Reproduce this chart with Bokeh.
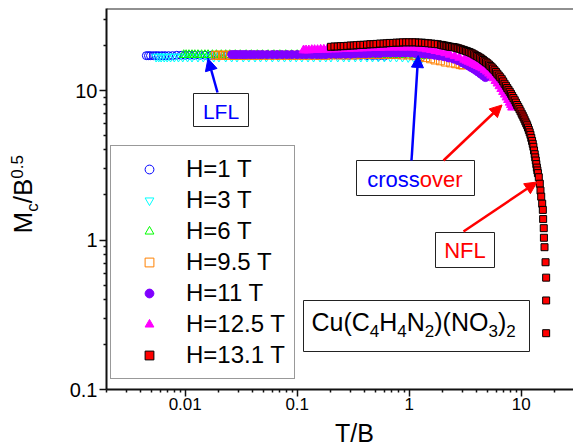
import math
from bokeh.plotting import figure
from bokeh.layouts import row, column
from bokeh.models import (Range1d, FixedTicker, NumeralTickFormatter, Label, Arrow,
                          NormalHead, Span, Legend, LegendItem)
from bokeh.embed import file_html
from bokeh.resources import INLINE

# ---------------- data (T/B, Mc/B^0.5) ----------------
labels = ["H=1 T", "H=3 T", "H=6 T", "H=9.5 T", "H=11 T", "H=12.5 T", "H=13.1 T"]

t1 = [0.0045, 0.0047, 0.0049, 0.0052, 0.0055, 0.0058, 0.0062, 0.0066,
      0.0071, 0.0077, 0.0084, 0.0092, 0.0100, 0.0110, 0.0120, 0.0135,
      0.0150, 0.0170, 0.0190, 0.0210, 0.0240, 0.0270, 0.0300, 0.0340,
      0.0380, 0.0430, 0.0480, 0.0540, 0.0610, 0.0690, 0.0780, 0.0880,
      0.100, 0.113, 0.127, 0.143, 0.161, 0.181, 0.204, 0.230,
      0.259, 0.292, 0.329, 0.371, 0.418, 0.471, 0.531, 0.600]
m1 = [17.1, 17.1, 17.1, 17.1, 17.1, 17.1, 17.1, 17.1,
      17.1, 17.1, 17.2, 17.2, 17.2, 17.2, 17.2, 17.2,
      17.2, 17.2, 17.2, 17.2, 17.2, 17.2, 17.2, 17.2,
      17.3, 17.3, 17.3, 17.3, 17.3, 17.3, 17.3, 17.3,
      17.3, 17.3, 17.3, 17.3, 17.3, 17.3, 17.3, 17.3,
      17.2, 17.2, 17.2, 17.2, 17.1, 17.1, 17.0, 17.0]

t3 = [0.0055, 0.0058, 0.0061, 0.0065, 0.0069, 0.0074, 0.0080, 0.0087,
      0.0095, 0.0105, 0.0115, 0.0130, 0.0145, 0.0160, 0.0180, 0.0200,
      0.0230, 0.0260, 0.0290, 0.0330, 0.0370, 0.0420, 0.0470, 0.0530,
      0.0600, 0.0680, 0.0770, 0.0870, 0.0980, 0.110, 0.125, 0.140,
      0.160, 0.180, 0.200, 0.230, 0.260, 0.290, 0.330, 0.370,
      0.420, 0.470, 0.530, 0.600, 0.680, 0.770, 0.870, 0.980,
      1.10, 1.20, 1.30]
m3 = [16.8, 16.8, 16.8, 16.8, 16.8, 16.8, 16.8, 16.8,
      16.8, 16.8, 16.8, 16.8, 16.8, 16.8, 16.8, 16.8,
      16.8, 16.8, 16.8, 16.8, 16.8, 16.8, 16.8, 16.8,
      16.8, 16.8, 16.8, 16.8, 16.8, 16.8, 16.8, 16.8,
      16.8, 16.8, 16.8, 16.8, 16.8, 16.8, 16.8, 16.8,
      16.8, 16.8, 16.8, 16.8, 16.8, 16.8, 16.8, 16.7,
      16.7, 16.6, 16.6]

t6 = [0.0097, 0.0102, 0.0108, 0.0115, 0.0122, 0.0130, 0.0140, 0.0150,
      0.0160, 0.0175, 0.0190, 0.0210, 0.0230, 0.0250, 0.0280, 0.0310,
      0.0350, 0.0390, 0.0440, 0.0490, 0.0550, 0.0620, 0.0700, 0.0790,
      0.0890, 0.100, 0.113, 0.127, 0.143, 0.160, 0.180, 0.200,
      0.230, 0.260, 0.290, 0.330, 0.370, 0.420, 0.470, 0.530,
      0.600, 0.680, 0.770, 0.870, 0.980, 1.10, 1.25, 1.40]
m6 = [17.3, 17.3, 17.3, 17.3, 17.3, 17.3, 17.3, 17.3,
      17.3, 17.3, 17.3, 17.3, 17.3, 17.3, 17.3, 17.3,
      17.3, 17.3, 17.3, 17.3, 17.3, 17.3, 17.3, 17.3,
      17.3, 17.3, 17.3, 17.3, 17.3, 17.3, 17.3, 17.3,
      17.3, 17.3, 17.3, 17.3, 17.3, 17.3, 17.3, 17.3,
      17.3, 17.3, 17.3, 17.3, 17.2, 17.2, 17.1, 17.0]

t95 = [0.0186, 0.0195, 0.0205, 0.0215, 0.0227, 0.0240, 0.0255, 0.0270,
       0.0290, 0.0310, 0.0340, 0.0370, 0.0410, 0.0450, 0.0500, 0.0560,
       0.0630, 0.0710, 0.0800, 0.0900, 0.100, 0.113, 0.127, 0.143,
       0.160, 0.180, 0.200, 0.230, 0.260, 0.290, 0.330, 0.370,
       0.420, 0.470, 0.530, 0.600, 0.680, 0.770, 0.870, 0.980,
       1.10, 1.25, 1.40, 1.55, 1.70, 1.90, 2.10, 2.35,
       2.60, 2.85, 3.00]
m95 = [17.2, 17.2, 17.2, 17.2, 17.2, 17.2, 17.2, 17.2,
       17.2, 17.2, 17.2, 17.2, 17.2, 17.2, 17.2, 17.2,
       17.2, 17.2, 17.2, 17.2, 17.2, 17.2, 17.2, 17.2,
       17.2, 17.2, 17.3, 17.3, 17.3, 17.3, 17.3, 17.4,
       17.4, 17.4, 17.4, 17.4, 17.4, 17.4, 17.3, 17.3,
       17.1, 16.9, 16.6, 16.3, 16.0, 15.8, 15.5, 15.3,
       15.1, 14.9, 14.8]

t11 = [0.0260, 0.0275, 0.0290, 0.0310, 0.0330, 0.0350, 0.0380, 0.0410,
       0.0450, 0.0490, 0.0540, 0.0600, 0.0660, 0.0730, 0.0810, 0.0900,
       0.100, 0.110, 0.120, 0.135, 0.150, 0.165, 0.180, 0.200,
       0.220, 0.245, 0.270, 0.300, 0.330, 0.370, 0.410, 0.450,
       0.500, 0.550, 0.610, 0.680, 0.750, 0.830, 0.920, 1.02,
       1.13, 1.25, 1.38, 1.52, 1.68, 1.85, 2.05, 2.25,
       2.50, 2.75, 3.00, 3.15, 3.30, 3.45, 3.60, 3.78,
       3.95, 4.15, 4.35, 4.57, 4.80]
m11 = [17.4, 17.4, 17.4, 17.4, 17.4, 17.4, 17.4, 17.4,
       17.4, 17.4, 17.4, 17.4, 17.4, 17.4, 17.4, 17.4,
       17.4, 17.4, 17.4, 17.4, 17.4, 17.4, 17.4, 17.5,
       17.5, 17.5, 17.5, 17.5, 17.6, 17.6, 17.6, 17.7,
       17.7, 17.7, 17.8, 17.8, 17.8, 17.8, 17.8, 17.8,
       17.7, 17.6, 17.5, 17.4, 17.2, 17.0, 16.8, 16.5,
       16.2, 15.8, 15.3, 15.05, 14.8, 14.5, 14.2, 13.9,
       13.6, 13.25, 12.9, 12.55, 12.2]

t125 = [0.114, 0.120, 0.127, 0.135, 0.143, 0.152, 0.162, 0.173,
        0.185, 0.200, 0.215, 0.230, 0.250, 0.270, 0.290, 0.320,
        0.350, 0.380, 0.420, 0.460, 0.500, 0.550, 0.600, 0.660,
        0.720, 0.800, 0.880, 0.970, 1.07, 1.18, 1.30, 1.43,
        1.57, 1.72, 1.90, 2.10, 2.30, 2.55, 2.80, 3.10,
        3.25, 3.40, 3.57, 3.75, 3.92, 4.10, 4.30, 4.50,
        4.72, 4.95, 5.17, 5.40, 5.65, 5.90, 6.15, 6.40,
        6.65, 6.90, 7.15, 7.40, 7.65, 7.90, 8.10, 8.30]
m125 = [18.6, 18.6, 18.6, 18.7, 18.7, 18.7, 18.8, 18.8,
        18.8, 18.9, 18.9, 18.9, 19.0, 19.0, 19.0, 19.1,
        19.1, 19.2, 19.2, 19.3, 19.3, 19.3, 19.4, 19.4,
        19.4, 19.4, 19.4, 19.4, 19.4, 19.3, 19.1, 18.9,
        18.7, 18.4, 18.1, 17.8, 17.4, 17.0, 16.6, 16.1,
        15.85, 15.6, 15.35, 15.1, 14.85, 14.6, 14.35, 14.1,
        13.75, 13.4, 13.0, 12.6, 12.1, 11.6, 11.15, 10.7,
        10.25, 9.8, 9.4, 9.0, 8.65, 8.3, 8.0, 7.7]

t131 = [0.200, 0.215, 0.230, 0.245, 0.260, 0.280, 0.300, 0.320,
        0.340, 0.365, 0.390, 0.420, 0.450, 0.480, 0.510, 0.550,
        0.590, 0.630, 0.670, 0.720, 0.770, 0.820, 0.880, 0.940,
        1.00, 1.07, 1.14, 1.22, 1.30, 1.39, 1.48, 1.58,
        1.69, 1.80, 1.92, 1.98, 2.05, 2.12, 2.19, 2.26,
        2.33, 2.41, 2.49, 2.57, 2.65, 2.74, 2.83, 2.92,
        3.02, 3.12, 3.22, 3.32, 3.43, 3.54, 3.66, 3.78,
        3.90, 4.02, 4.15, 4.28, 4.42, 4.56, 4.70, 4.85,
        5.00, 5.15, 5.30, 5.45, 5.60, 5.78, 5.95, 6.12,
        6.30, 6.50, 6.70, 6.90, 7.10, 7.30, 7.50, 7.70,
        7.90, 8.10, 8.30, 8.52, 8.75, 8.97, 9.20, 9.42,
        9.65, 9.87, 10.1, 10.3, 10.5, 10.7, 10.9, 11.1,
        11.3, 11.5, 11.7, 11.9, 12.1, 12.3, 12.5, 12.68,
        12.85, 13.02, 13.2, 13.35, 13.5, 13.65, 13.8, 13.95,
        14.1, 14.36, 14.66, 14.87, 15.09, 15.4, 15.6, 15.7,
        15.9, 15.95, 16.15, 16.5, 16.7, 16.7, 16.7]
m131 = [19.6, 19.7, 19.7, 19.8, 19.8, 19.9, 20.0, 20.0,
        20.1, 20.2, 20.2, 20.3, 20.4, 20.4, 20.5, 20.6,
        20.6, 20.7, 20.8, 20.8, 20.9, 20.9, 21.0, 21.0,
        21.0, 21.0, 21.0, 20.9, 20.9, 20.8, 20.7, 20.6,
        20.5, 20.4, 20.2, 20.1, 20.0, 19.9, 19.8, 19.7,
        19.6, 19.55, 19.5, 19.4, 19.3, 19.15, 19.0, 18.85,
        18.7, 18.55, 18.4, 18.25, 18.1, 17.9, 17.7, 17.45,
        17.2, 17.0, 16.8, 16.55, 16.3, 16.0, 15.7, 15.45,
        15.2, 14.9, 14.6, 14.3, 14.0, 13.65, 13.3, 12.95,
        12.6, 12.25, 11.9, 11.5, 11.1, 10.75, 10.4, 10.1,
        9.8, 9.5, 9.2, 8.9, 8.6, 8.3, 8.0, 7.75,
        7.5, 7.25, 7.0, 6.8, 6.6, 6.4, 6.2, 6.02,
        5.85, 5.65, 5.45, 5.25, 5.05, 4.82, 4.6, 4.4,
        4.2, 3.97, 3.75, 3.57, 3.4, 3.22, 3.05, 2.92,
        2.8, 2.63, 2.38, 2.14, 1.95, 1.75, 1.59, 1.38,
        1.20, 1.035, 0.895, 0.71, 0.56, 0.394, 0.238]

x_major = [0.01, 0.1, 1, 10]
y_major = [0.1, 1, 10]

for a, b in [(t1, m1), (t3, m3), (t6, m6), (t95, m95), (t11, m11), (t125, m125), (t131, m131)]:
    assert len(a) == len(b), (len(a), len(b))

# ---------------- layout (page pixels) ----------------
FONT = "Liberation Sans"
W, H = 573, 447
YW = 60           # width of the strip holding the y title
PH = 417          # height of the main figure (x title strip below it)
FL, FR, FT, FB = 106, 573, 8, 389
X_DEC, X_AT_001 = 112.0, 184.7      # px per decade, px of T/B = 0.01
Y_DEC, Y_AT_10 = 149.5, 90.0        # px per decade, px of M = 10
FIX_H = 0.32                        # measured baseline shift (em) of horizontal Labels
FIX_V = 0.56                        # measured baseline shift (em) of rotated Labels

lx0 = -2 - (X_AT_001 - FL) / X_DEC
lx1 = -2 + (FR - X_AT_001) / X_DEC
ly0 = 1 - (FB - Y_AT_10) / Y_DEC
ly1 = 1 + (Y_AT_10 - FT) / Y_DEC


def dx(px):
    return 10 ** (lx0 + (px - FL) / X_DEC)


def dy(py):
    return 10 ** (ly0 + (FB - py) / Y_DEC)


p = figure(width=W - YW, height=PH, x_axis_type="log", y_axis_type="log",
           x_range=Range1d(10 ** lx0, 10 ** lx1), y_range=Range1d(10 ** ly0, 10 ** ly1),
           output_backend="svg", toolbar_location=None,
           min_border_left=FL - YW, min_border_right=W - FR, min_border_top=FT,
           min_border_bottom=PH - FB)
p.outline_line_color = None
p.grid.visible = False
p.background_fill_color = "white"
p.border_fill_color = "white"

x_minor = [m * 10.0 ** e for e in range(-3, 2) for m in range(2, 10)]
y_minor = [m * 10.0 ** e for e in range(-1, 2) for m in range(2, 10)]
p.xaxis.ticker = FixedTicker(ticks=x_major, minor_ticks=x_minor)
p.yaxis.ticker = FixedTicker(ticks=y_major, minor_ticks=y_minor)
for ax in (p.xaxis[0], p.yaxis[0]):
    ax.formatter = NumeralTickFormatter(format="0.[00]")
    ax.axis_line_width = 2
    ax.axis_line_color = "#111111"
    ax.major_tick_in = 0
    ax.major_tick_out = 7
    ax.minor_tick_in = 0
    ax.minor_tick_out = 3
    ax.major_tick_line_width = 1.5
    ax.minor_tick_line_width = 1.5
    ax.major_tick_line_color = "#111111"
    ax.minor_tick_line_color = "#111111"
    ax.major_label_text_font = FONT
    ax.major_label_text_color = "black"
p.xaxis.major_label_text_font_size = "17px"
p.yaxis.major_label_text_font_size = "20px"
p.xaxis.major_label_standoff = 1
p.yaxis.major_label_standoff = 2

p.add_layout(Span(location=10 ** ly1, dimension="width", line_color="#222222", line_width=2))

# ---------------- data ----------------
series = [
    (t1, m1, "circle", 8, None, "#0000FF"),
    (t3, m3, "inverted_triangle", 9, None, "#00FFFF"),
    (t6, m6, "triangle", 9, None, "#00FF00"),
    (t95, m95, "square", 8, None, "#FF8000"),
    (t11, m11, "circle", 8, "#8000FF", "#8000FF"),
    (t125, m125, "triangle", 9, "#FF00FF", "#FF00FF"),
    (t131, m131, "square", 7, "#FF0000", "#000000"),
]
renderers = []
for xs, ys, mk, sz, fc, lc in series:
    r = p.scatter(xs, ys, marker=mk, size=sz, fill_color=fc, line_color=lc, line_width=1)
    renderers.append(r)

legend = Legend(items=[LegendItem(label=l, renderers=[r]) for l, r in zip(labels, renderers)],
                location=(110 - FL, FB - 379))
legend.label_text_font = FONT
legend.label_text_font_size = "24px"
legend.label_text_color = "black"
legend.glyph_height = 22
legend.glyph_width = 58
legend.label_height = 28
legend.label_standoff = 8
legend.spacing = 3
legend.padding = 9
legend.margin = 0
legend.border_line_color = "#333333"
legend.border_line_width = 1.5
legend.background_fill_color = "white"
legend.background_fill_alpha = 1.0
p.add_layout(legend)

# ---------------- annotation boxes ----------------
boxes = [(193, 248, 93, 126), (356, 474, 160, 195), (435, 494, 232, 267), (303, 529, 300, 351)]
p.quad(left=[dx(b[0]) for b in boxes], right=[dx(b[1]) for b in boxes],
       top=[dy(b[2]) for b in boxes], bottom=[dy(b[3]) for b in boxes],
       fill_color="white", line_color="#222222", line_width=1)


def add_text(px, py, text, size, color="black", align="left"):
    p.add_layout(Label(x=dx(px), y=dy(py - FIX_H * size), text=text, text_font=FONT,
                       text_font_size=f"{size}px", text_color=color,
                       text_align=align, text_baseline="alphabetic"))


ARIAL = {'C': 0.722, 'u': 0.556, '(': 0.333, ')': 0.333, 'H': 0.722, 'N': 0.722,
         'O': 0.778, '/': 0.278, 'B': 0.667, 'M': 0.833, 'c': 0.5, '.': 0.278,
         'r': 0.333, 'o': 0.556, 's': 0.5, 'v': 0.5, 'e': 0.556, 'T': 0.611}


def tw(s, size):
    return sum(ARIAL.get(ch, 0.556) for ch in s) * size


add_text(220.5, 118, "LFL", 21, "#0000FF", "center")
add_text(464.5, 257.5, "NFL", 22, "#FF0000", "center")
add_text(366.7, 186, "cross", 22, "#0000FF")
add_text(366.7 + tw("cross", 22), 186, "over", 22, "#FF0000")

# chemical formula with subscripts
xpos = 311.0
for seg, sub in [("Cu(C", False), ("4", True), ("H", False), ("4", True), ("N", False),
                 ("2", True), (")(NO", False), ("3", True), (")", False), ("2", True)]:
    size = 17 if sub else 25
    add_text(xpos, 335.5 if sub else 329.5, seg, size)
    xpos += tw(seg, size)

# ---------------- arrows ----------------
arrows = [((217, 92), (207.5, 58), "#0000FF"),
          ((411, 160), (417.7, 55), "#0000FF"),
          ((443, 160), (501.5, 104.5), "#FF0000"),
          ((463, 231), (536.5, 181.5), "#FF0000")]
for (x0, y0), (x1, y1), c in arrows:
    p.add_layout(Arrow(x_start=dx(x0), y_start=dy(y0), x_end=dx(x1), y_end=dy(y1),
                       line_color=c, line_width=2.5,
                       end=NormalHead(size=12, fill_color=c, line_color=c, line_width=1)))


# ---------------- axis titles in their own strips ----------------
# Each strip's frame has the same page extent as the main frame along the shared
# direction; its ranges are page pixels (y given as -page_y).
def strip(w, h, bl, br, bt, bb, page_x0, page_x1, page_y0, page_y1):
    f = figure(width=w, height=h,
               x_range=Range1d(page_x0, page_x1), y_range=Range1d(-page_y1, -page_y0),
               output_backend="svg", toolbar_location=None,
               x_axis_location=None, y_axis_location=None,
               min_border_left=bl, min_border_right=br, min_border_top=bt, min_border_bottom=bb)
    f.outline_line_color = None
    f.grid.visible = False
    f.background_fill_color = "white"
    f.border_fill_color = "white"
    return f


# y title "M_c/B^0.5", rotated, reading upwards from page y = 233
yfig = strip(YW, PH, 0, 0, FT, PH - FB, 0, YW, FT, FB)
ypos = 233.0
for seg, base_x in [("M", 37), ("c", 42), ("/B", 37), ("0.5", 26)]:
    size = 26 if base_x == 37 else 17
    yfig.add_layout(Label(x=base_x - FIX_V * size, y=-ypos, text=seg, angle=math.pi / 2,
                          text_font=FONT, text_font_size=f"{size}px", text_color="black",
                          text_align="left", text_baseline="alphabetic"))
    ypos -= tw(seg, size)

# x title
xfig = strip(W - YW, H - PH, FL - YW, W - FR, 0, 0, FL, FR, PH, H)
XT_SIZE = 25
xfig.add_layout(Label(x=354, y=-(440.8 - FIX_H * XT_SIZE), text="T/B", text_font=FONT,
                      text_font_size=f"{XT_SIZE}px", text_color="black",
                      text_align="center", text_baseline="alphabetic"))

layout = row(yfig, column(p, xfig))
open("out.html", "w").write(file_html(layout, INLINE))
